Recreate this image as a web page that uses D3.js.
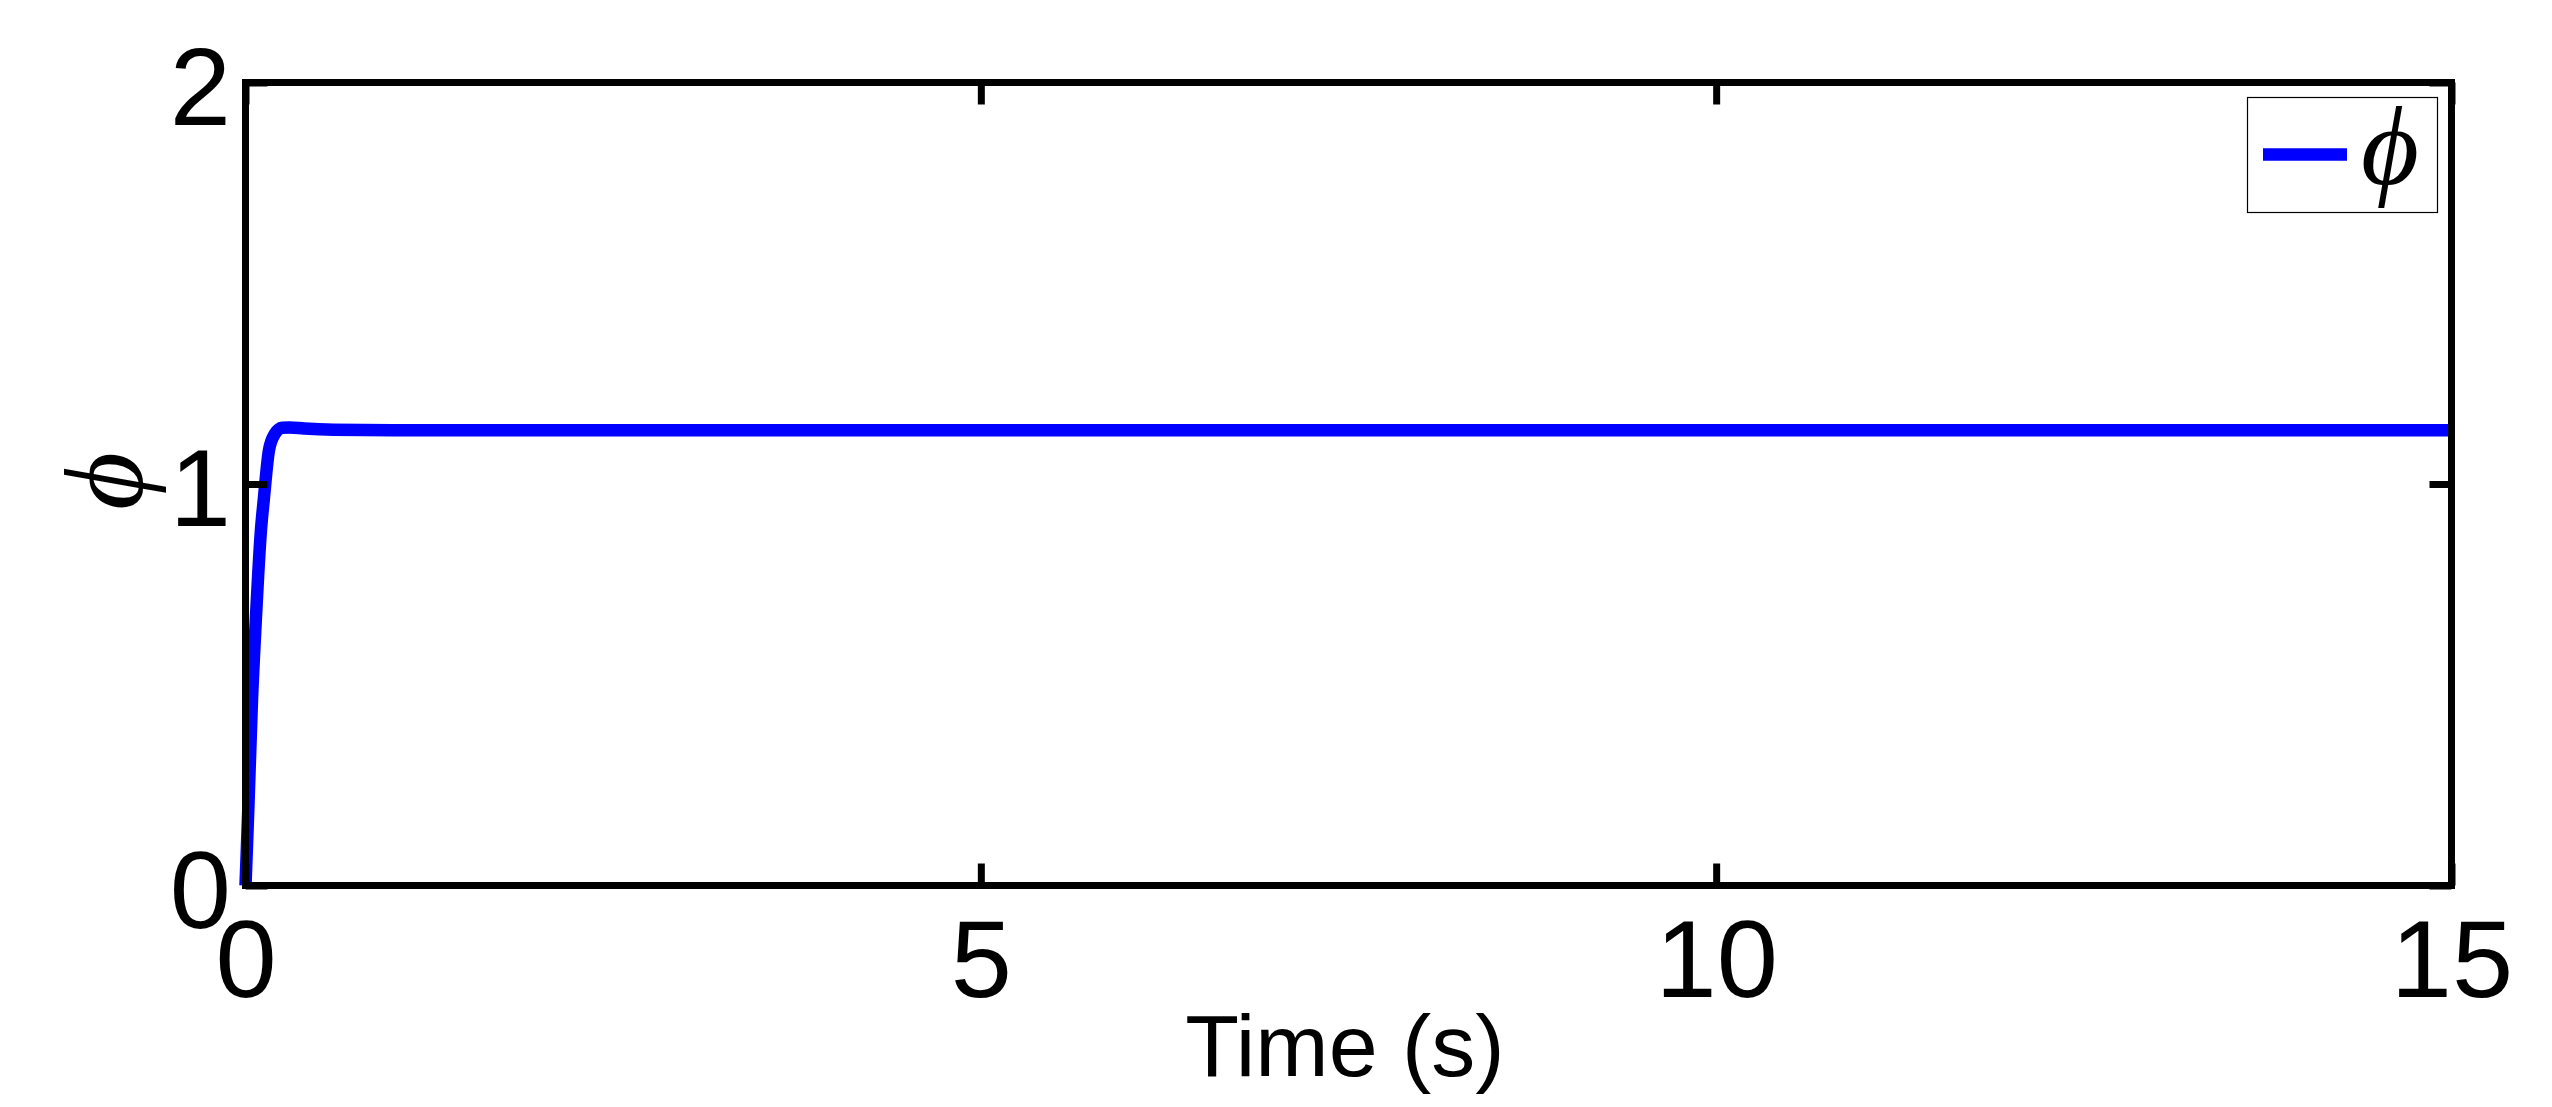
<!DOCTYPE html>
<html>
<head>
<meta charset="utf-8">
<script src="https://cdn.jsdelivr.net/npm/d3@7"></script>
<style>
  body { margin: 0; background: #fff; }
  svg { display: block; }
  .tick text { font-family: "Liberation Sans", Arial, sans-serif; fill: #000; }
</style>
</head>
<body>
<div id="chart"></div>
<script>
  // phi response
  var timeS   = [0, 0.02, 0.044, 0.07, 0.105, 0.124, 0.16, 0.2, 0.25, 0.3, 0.4, 0.6, 1.0, 15];
  var phiVals = [0, 0.2, 0.46, 0.66, 0.885, 0.96, 1.085, 1.125, 1.14, 1.141, 1.138, 1.135, 1.134, 1.134];

  var xTicks = [0, 5, 10, 15];
  var yTicks = [0, 1, 2];
  var xLabel = "Time (s)";
  var yLabel = "\u03D5";
  var seriesName = "\u03D5";

  var width = 2552, height = 1107;
  var margin = {left: 245.5, right: 2552 - 2451.5, top: 82.5, bottom: 1107 - 885.5};

  var svg = d3.select("#chart").append("svg")
      .attr("width", width)
      .attr("height", height);

  svg.append("rect").attr("width", width).attr("height", height).attr("fill", "#fff");

  var x = d3.scaleLinear().domain([0, 15]).range([margin.left, width - margin.right]);
  var y = d3.scaleLinear().domain([0, 2]).range([height - margin.bottom, margin.top]);

  var pts = timeS.map((t, i) => ({t: t, v: phiVals[i]}));

  var line = d3.line()
      .x(d => x(d.t))
      .y(d => y(d.v))
      .curve(d3.curveMonotoneX);

  svg.append("path")
      .datum(pts)
      .attr("d", line)
      .attr("fill", "none")
      .attr("stroke", "#0000ff")
      .attr("stroke-width", 12.5)
      .attr("stroke-linejoin", "round");

  // axes, ticks pointing inward
  var tickLen = 22;
  function styleAxis(g) {
    g.select(".domain").remove();
    g.selectAll(".tick line").attr("stroke", "#000").attr("stroke-width", 7);
  }

  svg.append("g")
      .attr("transform", "translate(0," + y(0) + ")")
      .call(d3.axisBottom(x).tickValues(xTicks).tickSize(-tickLen).tickPadding(33).tickFormat(d3.format("d")))
      .call(styleAxis)
      .selectAll("text").attr("font-size", 110);

  svg.append("g")
      .attr("transform", "translate(0," + y(2) + ")")
      .call(d3.axisTop(x).tickValues(xTicks).tickSize(-tickLen).tickFormat(""))
      .call(styleAxis);

  svg.append("g")
      .attr("transform", "translate(" + x(0) + ",0)")
      .call(d3.axisLeft(y).tickValues(yTicks).tickSize(-tickLen).tickPadding(14.5).tickFormat(d3.format("d")))
      .call(styleAxis)
      .selectAll("text").attr("font-size", 110).attr("dy", "0.38em");

  svg.append("g")
      .attr("transform", "translate(" + x(15) + ",0)")
      .call(d3.axisRight(y).tickValues(yTicks).tickSize(-tickLen).tickFormat(""))
      .call(styleAxis);

  // frame
  svg.append("rect")
      .attr("x", x(0))
      .attr("y", y(2))
      .attr("width", x(15) - x(0))
      .attr("height", y(0) - y(2))
      .attr("fill", "none")
      .attr("stroke", "#000")
      .attr("stroke-width", 7);

  // axis labels
  svg.append("text")
      .attr("x", 1345)
      .attr("y", 1076)
      .attr("text-anchor", "middle")
      .attr("font-family", "Liberation Sans, Arial, sans-serif")
      .attr("font-size", 88)
      .text(xLabel);

  svg.append("text")
      .attr("transform", "translate(142," + (y(1) - 3) + ") rotate(-90)")
      .attr("text-anchor", "middle")
      .attr("font-family", "Liberation Serif, DejaVu Serif, serif")
      .attr("font-style", "italic")
      .attr("font-size", 112)
      .text(yLabel);

  // legend
  var legend = svg.append("g");
  legend.append("rect")
      .attr("x", 2247.5)
      .attr("y", 97.5)
      .attr("width", 190)
      .attr("height", 115)
      .attr("fill", "#fff")
      .attr("stroke", "#000")
      .attr("stroke-width", 1.2);
  legend.append("line")
      .attr("x1", 2263).attr("x2", 2347)
      .attr("y1", 154.5).attr("y2", 154.5)
      .attr("stroke", "#0000ff")
      .attr("stroke-width", 12.5);
  legend.append("text")
      .attr("x", 2390)
      .attr("y", 184)
      .attr("text-anchor", "middle")
      .attr("font-family", "Liberation Serif, DejaVu Serif, serif")
      .attr("font-style", "italic")
      .attr("font-size", 112)
      .text(seriesName);
</script>
</body>
</html>
